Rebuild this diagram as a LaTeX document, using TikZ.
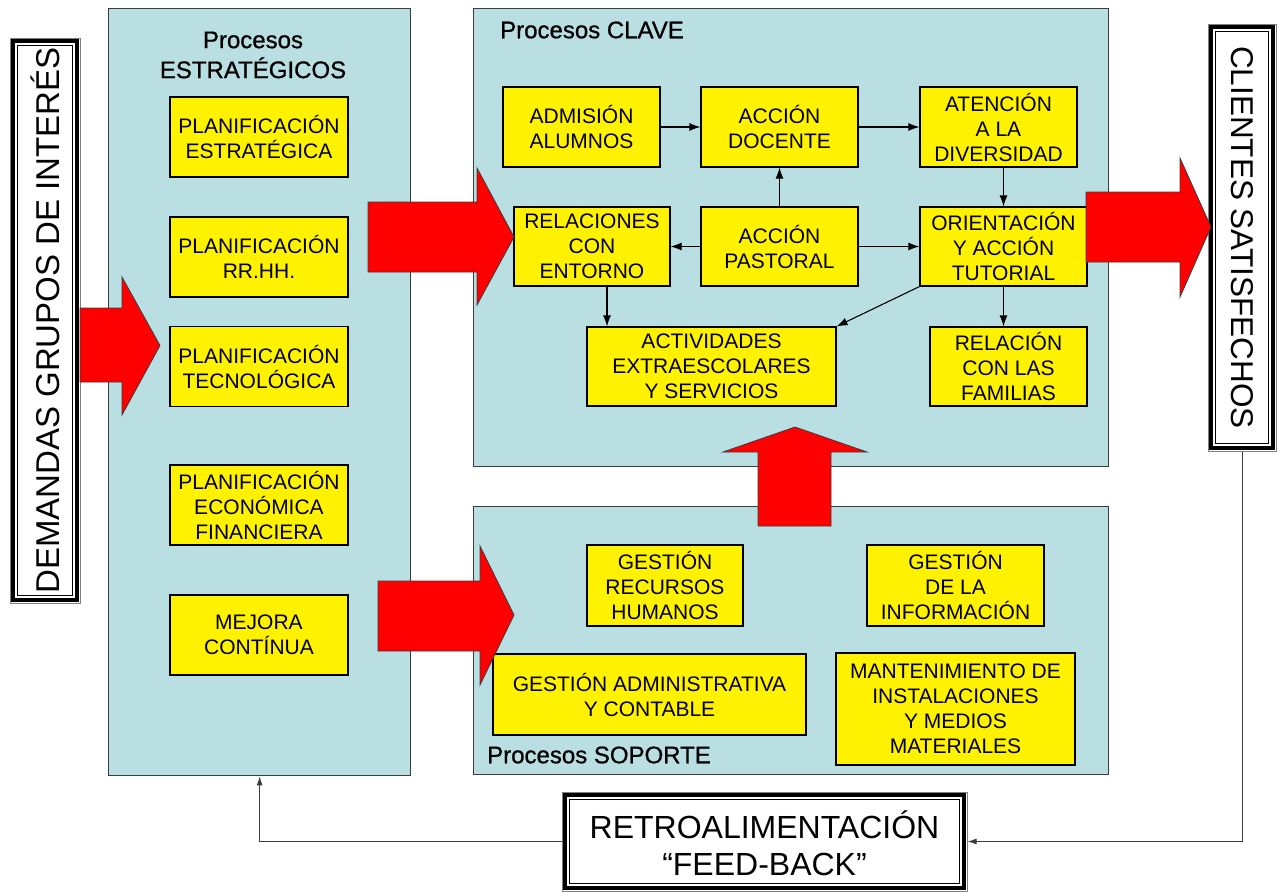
\documentclass[tikz,border=0pt]{standalone}
\usepackage{fontspec}
\setmainfont{Liberation Sans}
\newfontfamily\titlefont{Liberation Sans}[FakeBold=0.8]
\usetikzlibrary{arrows.meta,calc}
\definecolor{panelblue}{RGB}{185,223,227}
\definecolor{edgegray}{RGB}{60,60,60}
\begin{document}
\begin{tikzpicture}[x=1pt,y=-1pt,
  panel/.style={draw=edgegray, line width=1.3pt, fill=panelblue, anchor=north west, inner sep=0},
  ybox/.style={draw=black, line width=1.1pt, fill=yellow, inner sep=0, align=center, font=\fontsize{21}{25}\selectfont},
  flow/.style={draw=black, line width=1.1pt, -{Latex[length=11pt,width=8pt]}},
  fback/.style={draw=edgegray, line width=1pt, -{Latex[length=9pt,width=6pt]}},
  bigarrow/.style={draw=edgegray, line width=0.8pt, fill=red},
  ptitle/.style={font=\titlefont\fontsize{24}{30}\selectfont, inner sep=0, align=center},
  frame/.style={draw=gray, line width=1pt, fill=white, inner sep=0},
  thickframe/.style={draw=black, line width=3.5pt},
  thinframe/.style={draw=black, line width=1pt},
]
\useasboundingbox (0,0) rectangle (1277,892);

% panels
\node[panel, minimum width=302, minimum height=767] (str) at (108,8) {};
\node[panel, minimum width=635, minimum height=458] (cla) at (473,8) {};
\node[panel, minimum width=635, minimum height=268] (sop) at (473,506) {};

% panel titles
\node[ptitle] (strt) at (253,55) {Procesos\\ESTRATÉGICOS};
\node[ptitle, anchor=west] (clat) at (500,30) {Procesos CLAVE};
\node[ptitle, anchor=west] (sopt) at (487,755) {Procesos SOPORTE};

% strategic boxes
\node[ybox, minimum width=178, minimum height=80] (pe) at (259,137) {PLANIFICACIÓN\\ESTRATÉGICA};
\node[ybox, minimum width=178, minimum height=80] (prh) at (259,257) {PLANIFICACIÓN\\RR.HH.};
\node[ybox, minimum width=178, minimum height=80] (pt) at (259,366.5) {PLANIFICACIÓN\\TECNOLÓGICA};
\node[ybox, minimum width=178, minimum height=80] (pef) at (259,505) {PLANIFICACIÓN\\ECONÓMICA\\FINANCIERA};
\node[ybox, minimum width=178, minimum height=80] (mc) at (259,635) {MEJORA\\CONTÍNUA};

% key boxes
\node[ybox, minimum width=157, minimum height=80] (adm) at (581.5,127) {ADMISIÓN\\ALUMNOS};
\node[ybox, minimum width=157, minimum height=80] (doc) at (779.5,127) {ACCIÓN\\DOCENTE};
\node[ybox, minimum width=157, minimum height=80] (ate) at (998.5,127) {ATENCIÓN\\A LA\\DIVERSIDAD};
\node[ybox, minimum width=156, minimum height=79] (rel) at (592,246.5) {RELACIONES\\CON\\ENTORNO};
\node[ybox, minimum width=157, minimum height=79] (pas) at (779.5,246.5) {ACCIÓN\\PASTORAL};
\node[ybox, minimum width=167, minimum height=79] (ori) at (1003.5,246.5) {ORIENTACIÓN\\Y ACCIÓN\\TUTORIAL};
\node[ybox, minimum width=249, minimum height=79] (act) at (711.5,366.5) {ACTIVIDADES\\EXTRAESCOLARES\\Y SERVICIOS};
\node[ybox, minimum width=157, minimum height=79] (fam) at (1008.5,366.5) {RELACIÓN\\CON LAS\\FAMILIAS};

% support boxes
\node[ybox, minimum width=156, minimum height=81] (grh) at (665,585.5) {GESTIÓN\\RECURSOS\\HUMANOS};
\node[ybox, minimum width=177, minimum height=81] (gdi) at (955.5,585.5) {GESTIÓN\\DE LA\\INFORMACIÓN};
\node[ybox, minimum width=313, minimum height=81] (gac) at (649.5,694.5) {GESTIÓN ADMINISTRATIVA\\Y CONTABLE};
\node[ybox, minimum width=239, minimum height=112] (mim) at (955.5,709) {MANTENIMIENTO DE\\INSTALACIONES\\Y MEDIOS\\MATERIALES};

% key flows
\draw[flow] (adm) -- (doc);
\draw[flow] (doc) -- (ate);
\draw[flow] (ate.south -| ori.north) -- (ori.north);
\draw[flow] (pas) -- (doc);
\draw[flow] (pas) -- (rel);
\draw[flow] (pas) -- (ori);
\draw[flow] ([xshift=15pt]rel.south) -- ([xshift=15pt]rel.south |- act.north);
\draw[flow] (ori.south west) -- (act.north east);
\draw[flow] (ori.south) -- (ori.south |- fam.north);

% side frames
\node[frame, minimum width=70, minimum height=565] (dem) at (45,320.5) {};
\draw[thickframe] ([shift={(3.5,3.5)}]dem.north west) rectangle ([shift={(-3.5,-3.5)}]dem.south east);
\draw[thinframe] ([shift={(8,8)}]dem.north west) rectangle ([shift={(-8,-8)}]dem.south east);
\node[rotate=90, inner sep=0, font=\fontsize{33}{33}\selectfont] (demt) at (dem.center) {DEMANDAS GRUPOS DE INTERÉS};

\node[frame, minimum width=68, minimum height=427] (cli) at (1242,237.5) {};
\draw[thickframe] ([shift={(3.5,3.5)}]cli.north west) rectangle ([shift={(-3.5,-3.5)}]cli.south east);
\draw[thinframe] ([shift={(8,8)}]cli.north west) rectangle ([shift={(-8,-8)}]cli.south east);
\node[rotate=-90, inner sep=0, font=\fontsize{31.5}{31.5}\selectfont] (clit) at (cli.center) {CLIENTES SATISFECHOS};

\node[frame, minimum width=405, minimum height=99] (fb) at (764.5,841.5) {};
\draw[thickframe] ([shift={(3.5,3.5)}]fb.north west) rectangle ([shift={(-3.5,-3.5)}]fb.south east);
\draw[thinframe] ([shift={(8,8)}]fb.north west) rectangle ([shift={(-8,-8)}]fb.south east);
\node[inner sep=0, align=center, font=\fontsize{32}{37}\selectfont] (fbt) at (764.5,843.5) {RETROALIMENTACIÓN\\“FEED-BACK”};

% feedback loop
\draw[fback] (cli.south) |- (fb.east);
\draw[fback] (fb.west) -| (str.south);

% big arrows
\draw[bigarrow] (80,308) -- (122,308) -- (122,277) -- (160,345.5) -- (122,415) -- (122,382) -- (80,382) -- cycle;
\draw[bigarrow] (368,202) -- (477,202) -- (477,168) -- (514,237) -- (477,305) -- (477,272) -- (368,272) -- cycle;
\draw[bigarrow] (1086,192) -- (1180,192) -- (1180,158) -- (1211,227) -- (1180,297) -- (1180,262) -- (1086,262) -- cycle;
\draw[bigarrow] (378,581) -- (480,581) -- (480,546) -- (514,615) -- (480,685) -- (480,651) -- (378,651) -- cycle;
\draw[bigarrow] (758,526) -- (758,452) -- (723,452) -- (795,427) -- (867,452) -- (831,452) -- (831,526) -- cycle;
\end{tikzpicture}
\end{document}
